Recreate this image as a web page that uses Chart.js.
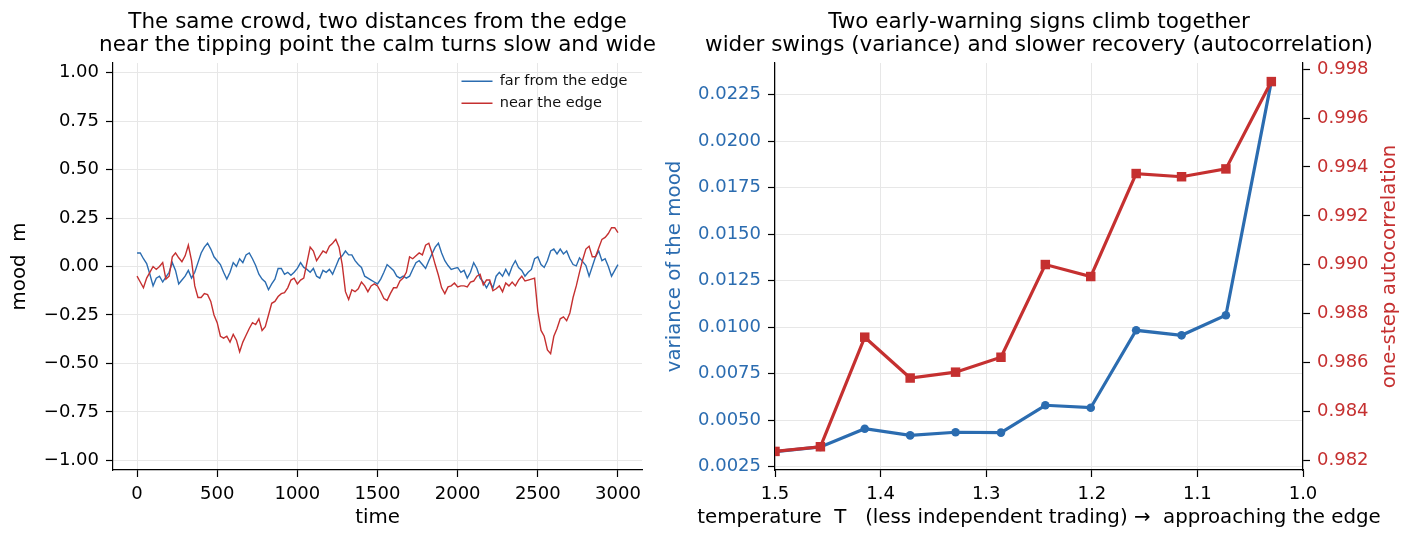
<!DOCTYPE html>
<html>
<head>
<meta charset="utf-8">
<script src="https://cdn.jsdelivr.net/npm/chart.js@4.4.1/dist/chart.umd.min.js"></script>
<style>
  html, body { margin: 0; padding: 0; background: #fff; }
  body { width: 1413px; height: 542px; position: relative; overflow: hidden; }
  canvas { position: absolute; top: 0; }
  #moodChart { left: 0; }
  #signsChart { left: 655px; }
</style>
</head>
<body>
<canvas id="moodChart" width="700" height="542"></canvas>
<canvas id="signsChart" width="758" height="542"></canvas>
<script>
const blue = '#2b6cb0';
const red = '#c53030';
const gridColor = '#e7e7e7';

// mood of the crowd, one reading every 20 steps (0 .. 3000)
const timeStep = 20;
const farMood = [
    0.07, 0.07, 0.04, 0.015, -0.04, -0.10, -0.06, -0.05, -0.08, -0.055,
    -0.03, 0.02, -0.02, -0.09, -0.07, -0.05, -0.02, -0.06, -0.03, 0.02,
    0.07, 0.10, 0.12, 0.09, 0.05, 0.03, 0.01, -0.03, -0.065, -0.03,
    0.02, 0.0, 0.04, 0.02, 0.06, 0.07, 0.04, 0.005, -0.04, -0.065,
    -0.08, -0.12, -0.09, -0.065, -0.01, -0.01, -0.04, -0.03, -0.045, -0.03,
    -0.01, 0.02, -0.005, -0.015, -0.03, -0.01, -0.05, -0.06, -0.02, -0.03,
    -0.015, -0.04, 0.0, 0.04, 0.055, 0.08, 0.06, 0.06, 0.03, 0.01,
    -0.005, -0.05, -0.06, -0.07, -0.08, -0.09, -0.065, -0.03, 0.01, -0.005,
    -0.02, -0.05, -0.06, -0.05, -0.06, -0.05, -0.014, 0.02, 0.03, 0.01,
    -0.01, 0.03, 0.065, 0.10, 0.12, 0.07, 0.03, 0.005, -0.015, -0.01,
    -0.005, -0.03, -0.02, -0.06, -0.03, 0.02, -0.01, -0.06, -0.08, -0.11,
    -0.08, -0.11, -0.05, -0.03, -0.05, -0.015, -0.045, 0.0, 0.03, -0.005,
    -0.02, -0.05, -0.03, -0.015, 0.04, 0.05, 0.01, -0.005, 0.03, 0.08,
    0.09, 0.065, 0.09, 0.065, 0.08, 0.04, 0.01, 0.003, 0.045, 0.025,
    0.005, -0.05, 0.0, 0.05, 0.08, 0.03, 0.04, 0.0, -0.05, -0.02,
    0.01
];
const nearMood = [
    -0.05, -0.08, -0.11, -0.06, -0.03, 0.0, -0.015, 0.0, 0.02, -0.065,
    -0.05, 0.05, 0.07, 0.045, 0.025, 0.055, 0.11, 0.03, -0.10, -0.16,
    -0.16, -0.14, -0.145, -0.18, -0.25, -0.29, -0.36, -0.37, -0.36, -0.39,
    -0.35, -0.38, -0.44, -0.39, -0.355, -0.32, -0.29, -0.30, -0.27, -0.33,
    -0.31, -0.25, -0.19, -0.18, -0.155, -0.14, -0.135, -0.11, -0.07, -0.06,
    -0.09, -0.07, -0.06, 0.02, 0.10, 0.08, 0.03, 0.055, 0.08, 0.07,
    0.105, 0.12, 0.14, 0.10, 0.01, -0.13, -0.17, -0.12, -0.13, -0.115,
    -0.08, -0.10, -0.13, -0.10, -0.09, -0.10, -0.13, -0.165, -0.175, -0.14,
    -0.11, -0.11, -0.075, -0.06, -0.03, 0.05, 0.04, 0.055, 0.07, 0.06,
    0.11, 0.12, 0.07, 0.01, -0.045, -0.11, -0.14, -0.105, -0.10, -0.085,
    -0.105, -0.10, -0.10, -0.105, -0.08, -0.075, -0.05, -0.04, -0.095, -0.07,
    -0.07, -0.125, -0.115, -0.10, -0.13, -0.085, -0.10, -0.08, -0.10, -0.07,
    -0.05, -0.075, -0.07, -0.065, -0.06, -0.23, -0.33, -0.36, -0.43, -0.45,
    -0.36, -0.32, -0.27, -0.26, -0.28, -0.24, -0.16, -0.10, -0.03, 0.035,
    0.09, 0.105, 0.05, 0.05, 0.095, 0.14, 0.15, 0.17, 0.20, 0.20,
    0.175
];
const timeTicks = [0, 500, 1000, 1500, 2000, 2500, 3000];
const moodTicks = [-1, -0.75, -0.5, -0.25, 0, 0.25, 0.5, 0.75, 1];

// early-warning signs per temperature
const temperatures = [1.5, 1.457, 1.415, 1.372, 1.329, 1.286, 1.244, 1.201, 1.158, 1.115, 1.073, 1.03];
const variance = [0.00331, 0.00356, 0.00454, 0.00418, 0.00435, 0.00433, 0.00580, 0.00567, 0.00983, 0.00956, 0.01064, 0.02321];
const autocorr = [0.98237, 0.98256, 0.98704, 0.98537, 0.98561, 0.98622, 0.99001, 0.98952, 0.99373, 0.99360, 0.99392, 0.99749];
const tempTicks = [1.5, 1.4, 1.3, 1.2, 1.1, 1.0];
const varianceTicks = [0.0025, 0.005, 0.0075, 0.01, 0.0125, 0.015, 0.0175, 0.02, 0.0225];
const autocorrTicks = [0.982, 0.984, 0.986, 0.988, 0.990, 0.992, 0.994, 0.996, 0.998];

Chart.defaults.font.family = '"DejaVu Sans", sans-serif';
Chart.defaults.color = '#000';
Chart.defaults.animation = false;

const tickFont = { size: 18 };
const labelFont = { size: 19.8 };
const titleCss = '21.5px "DejaVu Sans"';
const labelCss = '19.8px "DejaVu Sans"';

const setTicks = values => scale => {
    scale.ticks = values.map(value => ({ value }));
};
const withMinus = s => s.replace('-', '\u2212');

function axisGrid(onChart) {
    return {
        color: gridColor,
        drawOnChartArea: onChart,
        tickColor: '#000',
        tickLength: 7,
        tickWidth: 1.2
    };
}
const axisBorder = { color: '#000', width: 1.2 };

// two-line title centred over the plot area, like the original
const headline = {
    id: 'headline',
    afterDraw(chart, args, opts) {
        const { ctx, chartArea } = chart;
        ctx.save();
        ctx.font = titleCss;
        ctx.fillStyle = '#000';
        ctx.textAlign = 'center';
        ctx.textBaseline = 'middle';
        const cx = (chartArea.left + chartArea.right) / 2;
        opts.lines.forEach((line, i) => ctx.fillText(line, cx, opts.top + i * opts.gap));
        ctx.restore();
    }
};

// axis labels that are wider than the plot, or read bottom-to-top on the right
const freeLabels = {
    id: 'freeLabels',
    afterDraw(chart, args, opts) {
        const { ctx, chartArea } = chart;
        const midX = (chartArea.left + chartArea.right) / 2;
        const midY = (chartArea.top + chartArea.bottom) / 2;
        opts.items.forEach(item => {
            ctx.save();
            ctx.font = labelCss;
            ctx.fillStyle = item.color;
            ctx.textAlign = 'center';
            ctx.textBaseline = 'middle';
            if (item.vertical) {
                ctx.translate(item.x, midY);
                ctx.rotate(-Math.PI / 2);
            } else {
                ctx.translate(midX, item.y);
            }
            ctx.fillText(item.text, 0, 0);
            ctx.restore();
        });
    }
};

// legend sits in the upper right corner of the plot
const legendInside = {
    id: 'legendInside',
    beforeDraw(chart) {
        const lg = chart.legend;
        const area = chart.chartArea;
        lg.left = area.right - 188;
        lg.right = lg.left + lg.width;
        lg.top = area.top + 3.5;
        lg.bottom = lg.top + lg.height;
    }
};

new Chart(document.getElementById('moodChart'), {
    type: 'line',
    data: {
        datasets: [
            {
                label: 'far from the edge',
                data: farMood.map((y, i) => ({ x: i * timeStep, y })),
                borderColor: blue,
                backgroundColor: blue,
                borderWidth: 1.4,
                pointRadius: 0,
                tension: 0,
                order: 2
            },
            {
                label: 'near the edge',
                data: nearMood.map((y, i) => ({ x: i * timeStep, y })),
                borderColor: red,
                backgroundColor: red,
                borderWidth: 1.4,
                pointRadius: 0,
                tension: 0,
                order: 1
            }
        ]
    },
    options: {
        responsive: false,
        layout: { padding: { top: 63, right: 58, left: 0, bottom: 0 } },
        scales: {
            x: {
                type: 'linear',
                min: -150,
                max: 3150,
                afterBuildTicks: setTicks(timeTicks),
                afterFit: scale => { scale.height = 72; },
                grid: axisGrid(true),
                border: axisBorder,
                ticks: { padding: 7, font: tickFont, maxRotation: 0, callback: v => String(v) },
                title: { display: true, text: 'time', font: labelFont, padding: { top: 0, bottom: 12 } }
            },
            y: {
                min: -1.05,
                max: 1.05,
                afterBuildTicks: setTicks(moodTicks),
                afterFit: scale => { scale.width = 113; },
                grid: axisGrid(true),
                border: axisBorder,
                ticks: { padding: 7, font: tickFont, callback: v => withMinus(v.toFixed(2)) },
                title: { display: true, text: 'mood  m', font: labelFont, padding: { top: 8, bottom: 0 } }
            }
        },
        plugins: {
            legend: {
                position: 'chartArea',
                align: 'start',
                labels: {
                    usePointStyle: true,
                    pointStyle: 'line',
                    pointStyleWidth: 31,
                    padding: 7.5,
                    color: '#111',
                    font: { size: 14.5 },
                    sort: (a, b) => a.datasetIndex - b.datasetIndex
                }
            },
            tooltip: { enabled: false },
            headline: {
                lines: ['The same crowd, two distances from the edge',
                        'near the tipping point the calm turns slow and wide'],
                top: 22,
                gap: 23.5
            }
        }
    },
    plugins: [headline, legendInside]
});

new Chart(document.getElementById('signsChart'), {
    type: 'line',
    data: {
        datasets: [
            {
                label: 'variance',
                data: temperatures.map((x, i) => ({ x, y: variance[i] })),
                yAxisID: 'y',
                borderColor: blue,
                backgroundColor: blue,
                borderWidth: 3.2,
                pointStyle: 'circle',
                pointRadius: 4.3,
                pointBorderWidth: 0,
                tension: 0,
                order: 2
            },
            {
                label: 'autocorrelation',
                data: temperatures.map((x, i) => ({ x, y: autocorr[i] })),
                yAxisID: 'y1',
                borderColor: red,
                backgroundColor: red,
                borderWidth: 3.2,
                pointStyle: 'rect',
                pointRadius: 6.7,
                pointBorderWidth: 0,
                tension: 0,
                order: 1
            }
        ]
    },
    options: {
        responsive: false,
        layout: { padding: { top: 63, right: 0, left: 0, bottom: 0 } },
        scales: {
            x: {
                type: 'linear',
                reverse: true,
                min: 1.0,
                max: 1.5,
                afterBuildTicks: setTicks(tempTicks),
                afterFit: scale => { scale.height = 72; },
                grid: axisGrid(true),
                border: axisBorder,
                ticks: { padding: 7, font: tickFont, maxRotation: 0, callback: v => v.toFixed(1) }
            },
            y: {
                position: 'left',
                min: 0.00232,
                max: 0.0242,
                afterBuildTicks: setTicks(varianceTicks),
                afterFit: scale => { scale.width = 120; },
                grid: axisGrid(true),
                border: axisBorder,
                ticks: { padding: 7, font: tickFont, color: blue, callback: v => v.toFixed(4) },
                title: { display: true, text: 'variance of the mood', color: blue, font: labelFont, padding: { top: 8, bottom: 0 } }
            },
            y1: {
                position: 'right',
                min: 0.98161,
                max: 0.99825,
                afterBuildTicks: setTicks(autocorrTicks),
                afterFit: scale => { scale.width = 110; },
                grid: axisGrid(false),
                border: axisBorder,
                ticks: { padding: 7, font: tickFont, color: red, callback: v => v.toFixed(3) }
            }
        },
        plugins: {
            legend: { display: false },
            tooltip: { enabled: false },
            headline: {
                lines: ['Two early-warning signs climb together',
                        'wider swings (variance) and slower recovery (autocorrelation)'],
                top: 22,
                gap: 23.5
            },
            freeLabels: {
                items: [
                    { text: 'temperature  T   (less independent trading) \u2192  approaching the edge', y: 518, color: '#000' },
                    { text: 'one-step autocorrelation', vertical: true, x: 735, color: red }
                ]
            }
        }
    },
    plugins: [headline, freeLabels]
});
</script>
</body>
</html>
